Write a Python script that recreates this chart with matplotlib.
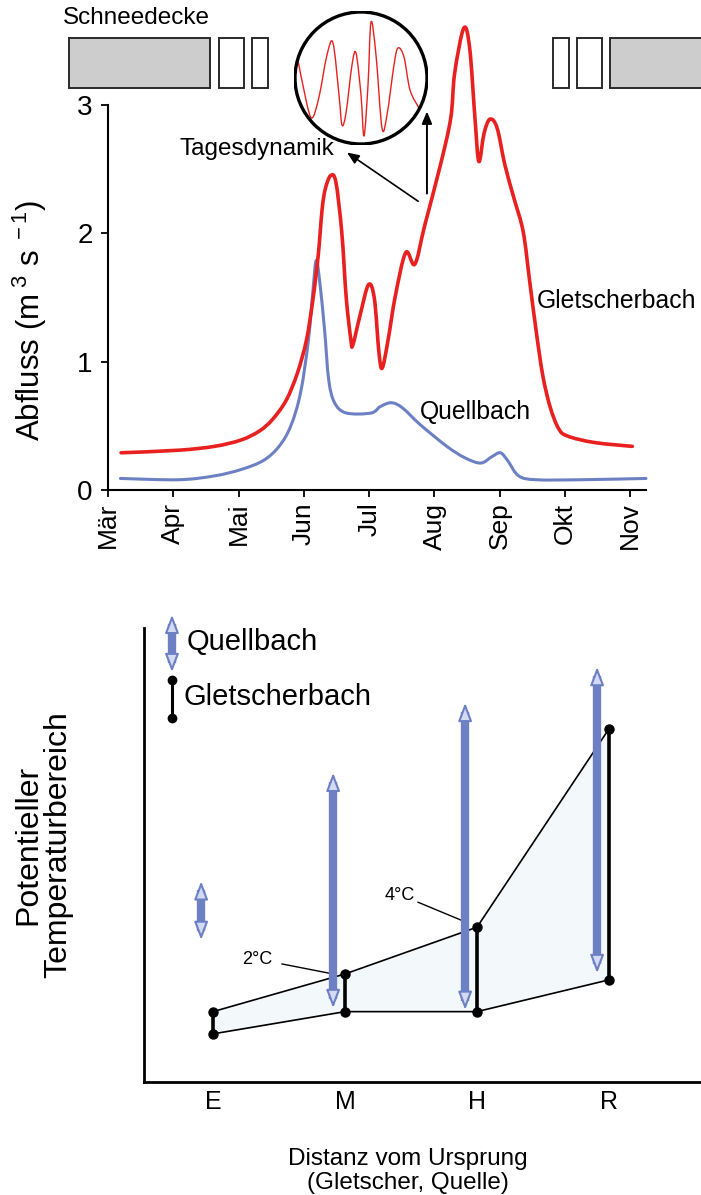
import matplotlib
matplotlib.use('Agg')
import matplotlib.pyplot as plt
from matplotlib.patches import Rectangle, Circle, FancyArrowPatch, PathPatch
from matplotlib.path import Path
from matplotlib.transforms import blended_transform_factory

plt.rcParams['font.family'] = ['Liberation Sans', 'DejaVu Sans']
plt.rcParams['mathtext.fontset'] = 'custom'
plt.rcParams['mathtext.rm'] = 'Liberation Sans'
plt.rcParams['mathtext.it'] = 'Liberation Sans:italic'
plt.rcParams['mathtext.default'] = 'regular'

# ---------------- data: top panel (discharge) ----------------
months = ['Mär', 'Apr', 'Mai', 'Jun', 'Jul', 'Aug', 'Sep', 'Okt', 'Nov']

glet_t = [0.20, 1.08, 1.63, 2.04, 2.32, 2.52, 2.73, 2.90, 3.04, 3.14, 3.22, 3.28,
          3.33, 3.41, 3.49, 3.58, 3.65, 3.72, 3.75, 3.86, 3.99, 4.08, 4.15, 4.20,
          4.29, 4.40, 4.56, 4.70, 4.85, 5.09, 5.25, 5.31, 5.45, 5.54, 5.62, 5.68,
          5.76, 5.85, 5.96, 6.08, 6.22, 6.36, 6.46, 6.56, 6.66, 6.77, 6.90, 7.04,
          7.45, 8.03]
glet_q = [0.29, 0.31, 0.34, 0.39, 0.46, 0.55, 0.70, 0.91, 1.17, 1.49, 1.83, 2.19,
          2.35, 2.45, 2.40, 2.01, 1.49, 1.17, 1.13, 1.36, 1.60, 1.49, 1.07, 0.95,
          1.17, 1.51, 1.85, 1.76, 2.06, 2.53, 2.90, 3.25, 3.60, 3.44, 2.90, 2.56,
          2.78, 2.89, 2.82, 2.53, 2.27, 2.01, 1.62, 1.23, 0.89, 0.65, 0.48, 0.42,
          0.37, 0.34]

quell_t = [0.19, 1.08, 1.63, 2.04, 2.38, 2.62, 2.80, 2.95, 3.07, 3.14, 3.19, 3.25,
           3.32, 3.38, 3.47, 3.65, 4.03, 4.17, 4.34, 4.51, 4.78, 5.19, 5.47, 5.71,
           5.88, 6.01, 6.12, 6.29, 6.56, 7.24, 8.24]
quell_q = [0.09, 0.08, 0.11, 0.16, 0.23, 0.34, 0.50, 0.76, 1.17, 1.56, 1.79, 1.59,
           1.23, 0.86, 0.68, 0.60, 0.60, 0.65, 0.68, 0.64, 0.51, 0.34, 0.25, 0.21,
           0.26, 0.29, 0.23, 0.11, 0.08, 0.08, 0.09]

# snow cover blocks (month units)
snow_start = [-0.60, 1.70, 2.21, 6.81, 7.18, 7.69]
snow_end = [1.56, 2.08, 2.45, 7.06, 7.57, 9.40]
snow_full = [True, False, False, False, False, True]

# diurnal signal in the inset (arbitrary time / relative discharge units)
wave_t = [2, 12, 18, 25, 33, 39, 45, 48, 52, 58, 62, 67, 70, 74, 77, 82, 88, 93,
          100, 104, 110, 116, 125]
wave_q = [95, 45, 27, 48, 90, 102, 50, 20, 32, 80, 92, 50, 9, 60, 123, 90, 17, 30,
          80, 97, 88, 55, 37]

# ---------------- data: bottom panel (temperature range) ----------------
sites = ['E', 'M', 'H', 'R']
glet_low = [1.06, 1.55, 1.55, 2.25]
glet_high = [1.55, 2.38, 3.41, 7.78]
quell_low = [3.13, 1.63, 1.59, 2.40]
quell_high = [4.42, 6.81, 8.35, 9.14]
temp_labels = ['2°C', '4°C']

RED = '#e8201f'
BLUE = '#6d80c4'
BLUE_LIGHT = '#d3daf2'


def smooth_path(xs, ys):
    """Catmull-Rom curve through the given points, as cubic Bezier path."""
    pts = list(zip(xs, ys))
    n = len(pts)
    verts = [pts[0]]
    codes = [Path.MOVETO]
    for i in range(n - 1):
        p0 = pts[i - 1] if i > 0 else pts[i]
        p1 = pts[i]
        p2 = pts[i + 1]
        p3 = pts[i + 2] if i + 2 < n else pts[i + 1]
        c1 = (p1[0] + (p2[0] - p0[0]) / 6.0, p1[1] + (p2[1] - p0[1]) / 6.0)
        c2 = (p2[0] - (p3[0] - p1[0]) / 6.0, p2[1] - (p3[1] - p1[1]) / 6.0)
        verts += [c1, c2, p2]
        codes += [Path.CURVE4] * 3
    return Path(verts, codes)


fig = plt.figure(figsize=(7.01, 11.95), dpi=100)
fig.patch.set_facecolor('white')

# ================= TOP PANEL =================
ax1 = fig.add_axes([108 / 701, 1 - 490 / 1195, 538 / 701, 385 / 1195])
ax1.set_xlim(0, 8.24)
ax1.set_ylim(0, 3)
ax1.patch.set_visible(False)
for s in ['top', 'right']:
    ax1.spines[s].set_visible(False)
for s in ['left', 'bottom']:
    ax1.spines[s].set_linewidth(1.5)

ax1.add_patch(PathPatch(smooth_path(quell_t, quell_q), fill=False, edgecolor=BLUE,
                        lw=2.2, clip_on=False, zorder=3, joinstyle='round', capstyle='round'))
ax1.add_patch(PathPatch(smooth_path(glet_t, glet_q), fill=False, edgecolor=RED,
                        lw=2.6, clip_on=False, zorder=4, joinstyle='round', capstyle='round'))

ax1.set_yticks([0, 1, 2, 3])
ax1.set_yticklabels(['0', '1', '2', '3'], fontsize=20)
ax1.set_xticks(range(len(months)))
ax1.set_xticklabels(months, rotation=90, fontsize=19)
ax1.tick_params(direction='out', length=5, width=1.3, pad=4)
ax1.tick_params(axis='y', pad=6)

fig.text(30 / 701, 1 - 320 / 1195, r'Abfluss (m$^{\ 3}$ s$^{\ -1}$)', rotation=90,
         ha='center', va='center', fontsize=22.5)

ax1.text(6.57, 1.47, 'Gletscherbach', fontsize=17.8, ha='left', va='center')
ax1.text(4.78, 0.61, 'Quellbach', fontsize=17.8, ha='left', va='center')
ax1.text(1.09, 2.66, 'Tagesdynamik', fontsize=17.5, ha='left', va='center')

ax1.annotate('', xy=(3.66, 2.63), xytext=(4.75, 2.25),
             arrowprops=dict(arrowstyle='-|>,head_length=0.6,head_width=0.25',
                             color='black', lw=1.2, shrinkA=0, shrinkB=0, mutation_scale=12),
             annotation_clip=False)
ax1.annotate('', xy=(4.885, 2.95), xytext=(4.885, 2.31),
             arrowprops=dict(arrowstyle='-|>,head_length=0.6,head_width=0.25',
                             color='black', lw=1.4, shrinkA=0, shrinkB=0, mutation_scale=12),
             annotation_clip=False)

# snow cover bar
trans = blended_transform_factory(ax1.transData, ax1.transAxes)
y0 = (490 - 88) / 385
hh = 50 / 385
for s, e, full in zip(snow_start, snow_end, snow_full):
    ax1.add_patch(Rectangle((s, y0), e - s, hh, transform=trans, clip_on=False,
                            facecolor='#cdcdcd' if full else 'white',
                            edgecolor='#2a2a2a', lw=1.4))
fig.text(63 / 701, 1 - 18 / 1195, 'Schneedecke', fontsize=17.5, ha='left', va='center')

# inset with diurnal dynamics
ax_in = fig.add_axes([294 / 701, 1 - 145 / 1195, 134 / 701, 134 / 1195])
ax_in.set_xlim(0, 134)
ax_in.set_ylim(0, 134)
ax_in.axis('off')
circ = Circle((67, 67), 66, fill=False, lw=2.4, ec='black', zorder=3)
ax_in.add_patch(circ)
wpatch = PathPatch(smooth_path(wave_t, wave_q), fill=False, edgecolor=RED, lw=1.0, zorder=2)
ax_in.add_patch(wpatch)
wpatch.set_clip_path(circ)

# ================= BOTTOM PANEL =================
ax2 = fig.add_axes([144 / 701, 1 - 1082 / 1195, 557 / 701, 454 / 1195])
ax2.set_xlim(-0.523, 3.697)
ax2.set_ylim(0, 10)
ax2.patch.set_visible(False)
for s in ['top', 'right']:
    ax2.spines[s].set_visible(False)
for s in ['left', 'bottom']:
    ax2.spines[s].set_linewidth(2.0)
ax2.set_yticks([])
ax2.set_xticks(range(len(sites)))
ax2.set_xticklabels(sites, fontsize=18)
ax2.tick_params(axis='x', length=0, pad=6)

xs = list(range(len(sites)))
ax2.fill_between(xs, glet_low, glet_high, color='#f3f8fb', zorder=0, lw=0)
ax2.plot(xs, glet_high, color='black', lw=1.2, zorder=2)
ax2.plot(xs, glet_low, color='black', lw=1.2, zorder=2)
ax2.vlines(xs, glet_low, glet_high, colors='black', lw=2.6, zorder=4)
ax2.plot(xs, glet_low, 'o', color='black', ms=6.5, zorder=5)
ax2.plot(xs, glet_high, 'o', color='black', ms=6.5, zorder=5)


def double_arrow(ax, x, lo, hi):
    ax.plot([x, x], [lo + 0.2, hi - 0.2], color=BLUE, lw=6.0, solid_capstyle='butt',
            zorder=3, clip_on=False)
    arr = FancyArrowPatch((x, lo), (x, hi),
                          arrowstyle='<|-|>,head_length=1.1,head_width=0.42',
                          mutation_scale=10, lw=1.5, shrinkA=0, shrinkB=0,
                          facecolor=BLUE_LIGHT, edgecolor=BLUE, zorder=3.5, clip_on=False)
    ax.add_patch(arr)


offset = -0.09
for i in xs:
    double_arrow(ax2, i + offset, quell_low[i], quell_high[i])

# annotations 2°C / 4°C
ax2.plot([0.523, 0.909], [2.60, 2.38], color='black', lw=1.0, zorder=2.5)
ax2.text(0.333, 2.69, temp_labels[0], fontsize=13, ha='center', va='center')
ax2.plot([1.553, 1.917], [3.96, 3.52], color='black', lw=1.0, zorder=2.5)
ax2.text(1.417, 4.10, temp_labels[1], fontsize=13, ha='center', va='center')

# legend
double_arrow(ax2, -0.311, 9.03, 10.29)
ax2.text(-0.197, 9.69, 'Quellbach', fontsize=21, ha='left', va='center')
ax2.plot([-0.311, -0.311], [8.02, 8.85], color='black', lw=2.2, clip_on=False, zorder=4)
ax2.plot([-0.311, -0.311], [8.02, 8.85], 'o', color='black', ms=6, clip_on=False, zorder=5)
ax2.text(-0.227, 8.48, 'Gletscherbach', fontsize=21, ha='left', va='center')

fig.text(43 / 701, 1 - 845 / 1195, 'Potentieller\nTemperaturbereich', rotation=90,
         ha='center', va='center', fontsize=23, linespacing=1.0)
fig.text(408 / 701, 1 - 1171 / 1195, 'Distanz vom Ursprung\n(Gletscher, Quelle)',
         ha='center', va='center', fontsize=17.5, linespacing=1.1)

fig.savefig('out.png', dpi=100, facecolor='white')
